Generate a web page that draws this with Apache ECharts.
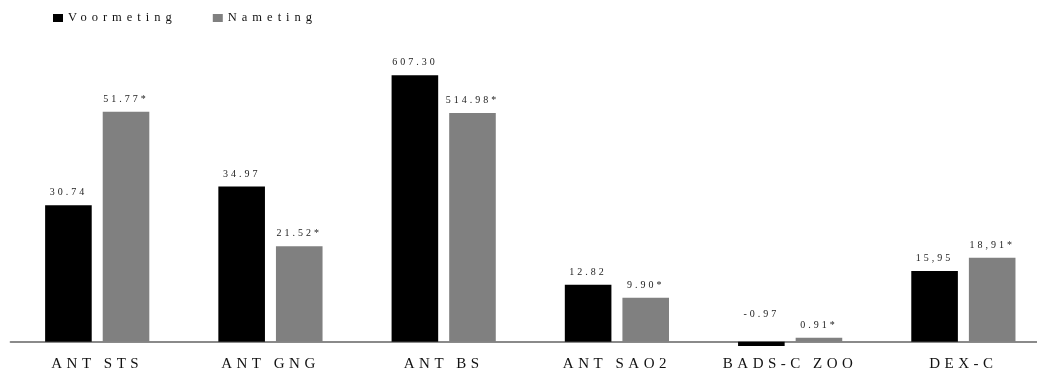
<!DOCTYPE html>
<html>
<head>
<meta charset="utf-8">
<script src="https://cdn.jsdelivr.net/npm/echarts@6/dist/echarts.min.js"></script>
<style>
  html, body { margin: 0; padding: 0; background: #fff; overflow: hidden; }
  #chart { width: 1050px; height: 375px; }
</style>
</head>
<body>
<div id="chart"></div>
<script>
const categories = ['ANT STS', 'ANT GNG', 'ANT BS', 'ANT SAO2', 'BADS-C ZOO', 'DEX-C'];
const voormeting = [30.74, 34.97, 607.30, 12.82, -0.97, 15.95];
const nameting = [51.77, 21.52, 514.98, 9.90, 0.91, 18.91];
const voormetingLabels = ['30.74', '34.97', '607.30', '12.82', '-0.97', '15,95'];
const nametingLabels = ['51.77*', '21.52*', '514.98*', '9.90*', '0.91*', '18,91*'];
// categories drawn against the secondary (×10) value axis
const secondaryCategories = ['ANT BS'];

const FONT = "'Liberation Serif', 'Times New Roman', serif";

// wide letter spacing like the reference (canvas text)
(function () {
  const proto = CanvasRenderingContext2D.prototype;
  const setSpacing = function (ctx) {
    const m = /(\d+(?:\.\d+)?)px/.exec(ctx.font || '');
    if (!m || !('letterSpacing' in ctx)) return;
    const size = parseFloat(m[1]);
    const factor = (size > 11 && size < 14) ? 0.4 : 0.3;
    ctx.letterSpacing = (size * factor).toFixed(2) + 'px';
  };
  const origFill = proto.fillText;
  const origMeasure = proto.measureText;
  proto.fillText = function () { setSpacing(this); return origFill.apply(this, arguments); };
  proto.measureText = function () { setSpacing(this); return origMeasure.apply(this, arguments); };
})();

function buildData(values, labels, onSecondary) {
  return values.map((v, i) => {
    const isSec = secondaryCategories.includes(categories[i]);
    if (isSec !== onSecondary) return '-';
    const item = { value: v, label: { formatter: labels[i] } };
    if (v < 0) {
      item.label.position = 'top';
      item.label.distance = 21;
    }
    return item;
  });
}

const labelStyle = {
  show: true,
  position: 'top',
  distance: 6,
  fontFamily: FONT,
  fontSize: 10,
  color: '#222'
};

function makeSeries(name, values, labels, color, onSecondary) {
  return {
    name: name,
    type: 'bar',
    xAxisIndex: onSecondary ? 1 : 0,
    yAxisIndex: onSecondary ? 1 : 0,
    barWidth: 46.6,
    barGap: '23.6%',
    itemStyle: { color: color },
    label: labelStyle,
    data: buildData(values, labels, onSecondary),
    animation: false
  };
}

const chart = echarts.init(document.getElementById('chart'), null, { renderer: 'canvas' });
chart.setOption({
  animation: false,
  textStyle: { fontFamily: FONT },
  legend: {
    data: ['Voormeting', 'Nameting'],
    left: 53,
    top: 9,
    padding: 0,
    icon: 'rect',
    itemWidth: 10,
    itemHeight: 8,
    itemGap: 36,
    itemTextGap: 3,
    textStyle: { fontFamily: FONT, fontSize: 12.5, color: '#111' }
  },
  grid: { left: 10.6, right: 0, top: 75.3, bottom: 24.4, containLabel: false, outerBoundsMode: 'none' },
  xAxis: [
    {
      type: 'category',
      data: categories,
      axisTick: { show: false },
      axisLine: { show: true, onZero: true, lineStyle: { color: '#8a8a8a', width: 2 } },
      axisLabel: { interval: 0, fontFamily: FONT, fontSize: 15, color: '#111', margin: 4, hideOverlap: false }
    },
    {
      type: 'category',
      data: categories,
      show: false
    }
  ],
  yAxis: [
    { type: 'value', min: -2, max: 60, show: false, splitLine: { show: false } },
    { type: 'value', min: -20, max: 600, show: false, splitLine: { show: false } }
  ],
  series: [
    makeSeries('Voormeting', voormeting, voormetingLabels, '#000000', false),
    makeSeries('Nameting', nameting, nametingLabels, '#808080', false),
    makeSeries('Voormeting', voormeting, voormetingLabels, '#000000', true),
    makeSeries('Nameting', nameting, nametingLabels, '#808080', true)
  ]
});
</script>
</body>
</html>
